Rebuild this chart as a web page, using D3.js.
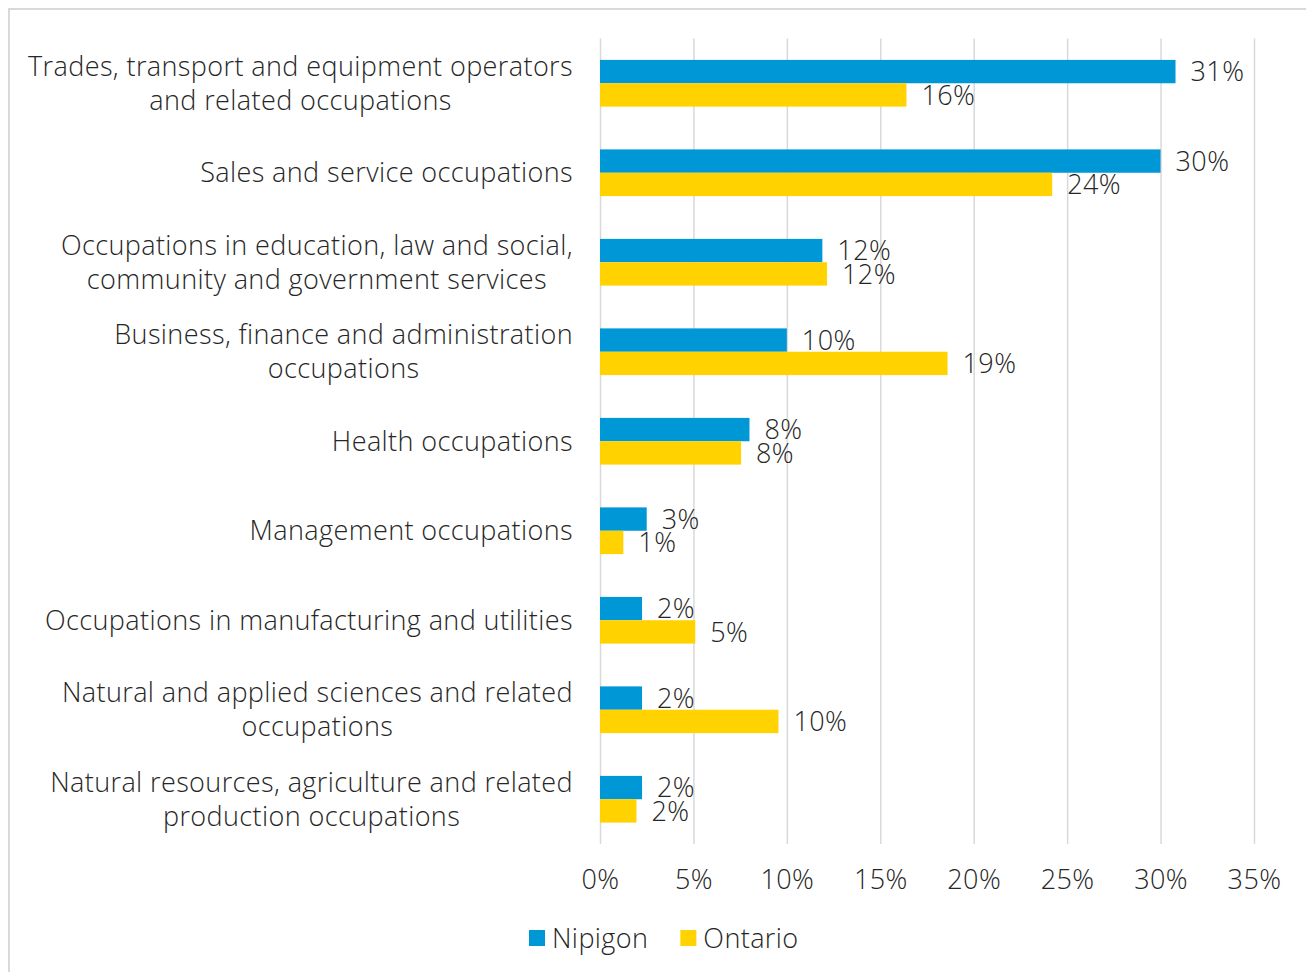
<!DOCTYPE html>
<html>
<head>
<meta charset="utf-8">
<script src="https://cdn.jsdelivr.net/npm/d3@7"></script>
<style>
  body { margin: 0; background: #fff; }
  text { font-family: "Open Sans", Lato, sans-serif; font-weight: 300; fill: #262626; letter-spacing: 0.4px; }
</style>
</head>
<body>
<div id="chart"></div>
<script>
var categories = [
    ["Trades, transport and equipment operators", "and related occupations"],
    ["Sales and service occupations"],
    ["Occupations in education, law and social,", "community and government services"],
    ["Business, finance and administration", "occupations"],
    ["Health occupations"],
    ["Management occupations"],
    ["Occupations in manufacturing and utilities"],
    ["Natural and applied sciences and related", "occupations"],
    ["Natural resources, agriculture and related", "production occupations"]
];
var seriesNames = ["Nipigon", "Ontario"];
var nipigon = [30.8, 30.0, 11.9, 10.0, 8.0, 2.5, 2.25, 2.25, 2.25];
var ontario = [16.4, 24.2, 12.15, 18.6, 7.55, 1.25, 5.1, 9.55, 1.95];
var colors = ["#0097d6", "#ffd200"];
var xTicks = [0, 5, 10, 15, 20, 25, 30, 35];

var W = 1306, H = 972;
var plot = { left: 600, right: 1254, top: 38.5, bottom: 844 };
var fontSize = "27px";

var svg = d3.select("#chart").append("svg")
    .attr("width", W)
    .attr("height", H);

// chart frame
svg.append("rect")
    .attr("x", 9).attr("y", 9)
    .attr("width", W + 20).attr("height", H + 20)
    .attr("fill", "#fff")
    .attr("stroke", "#d9d9d9")
    .attr("stroke-width", 2);

var keys = categories.map(function (d, i) { return "c" + i; });

var x = d3.scaleLinear().domain([0, 35]).range([plot.left, plot.right]);
var y = d3.scaleBand().domain(keys).range([plot.top, plot.bottom])
    .paddingInner(0.478).paddingOuter(0.239);
var ySub = d3.scaleBand().domain(seriesNames).range([0, y.bandwidth()]);

// gridlines + tick labels
var xAxis = svg.append("g")
    .attr("transform", "translate(0," + plot.bottom + ")")
    .call(d3.axisBottom(x)
        .tickValues(xTicks)
        .tickSize(-(plot.bottom - plot.top))
        .tickPadding(26)
        .tickFormat(function (d) { return d + "%"; }));
xAxis.select(".domain").remove();
xAxis.selectAll("line").attr("stroke", "#d9d9d9").attr("stroke-width", 1.5);
xAxis.selectAll("text")
    .style("font-family", "'Open Sans', Lato, sans-serif")
    .style("font-size", fontSize)
    .attr("fill", "#262626");

var data = [];
keys.forEach(function (k, i) {
    data.push({ key: k, s: "Nipigon", v: nipigon[i] });
    data.push({ key: k, s: "Ontario", v: ontario[i] });
});

svg.append("g").selectAll("rect")
    .data(data)
    .enter()
    .append("rect")
    .attr("x", x(0))
    .attr("y", function (d) { return y(d.key) + ySub(d.s); })
    .attr("width", function (d) { return x(d.v) - x(0); })
    .attr("height", ySub.bandwidth())
    .attr("fill", function (d) { return colors[seriesNames.indexOf(d.s)]; });

// value labels
svg.append("g").selectAll("text")
    .data(data)
    .enter()
    .append("text")
    .attr("x", function (d) { return x(d.v) + 15; })
    .attr("y", function (d) { return y(d.key) + ySub(d.s) + ySub.bandwidth() / 2; })
    .attr("dy", "0.36em")
    .style("font-size", fontSize)
    .text(function (d) { return Math.round(d.v) + "%"; });

// category labels (centred block, right aligned)
var catG = svg.append("g");
categories.forEach(function (lines, i) {
    var cy = y(keys[i]) + y.bandwidth() / 2;
    var t = catG.append("text")
        .attr("text-anchor", "middle")
        .style("font-size", fontSize);
    var lh = 34;
    var y0 = cy - (lines.length - 1) * lh / 2;
    var spans = lines.map(function (s, j) {
        return t.append("tspan").attr("y", y0 + j * lh).attr("dy", "0.36em").text(s);
    });
    var maxW = d3.max(spans, function (sp) { return sp.node().getComputedTextLength(); });
    spans.forEach(function (sp) { sp.attr("x", 573 - maxW / 2); });
});

// legend
var legend = svg.append("g").attr("transform", "translate(529,938)");
var lx = 0;
seriesNames.forEach(function (name, i) {
    legend.append("rect")
        .attr("x", lx).attr("y", -8)
        .attr("width", 16).attr("height", 16)
        .attr("fill", colors[i]);
    var t = legend.append("text")
        .attr("x", lx + 23)
        .attr("dy", "0.36em")
        .style("font-size", fontSize)
        .text(name);
    lx += 23 + t.node().getComputedTextLength() + 32;
});
</script>
</body>
</html>
